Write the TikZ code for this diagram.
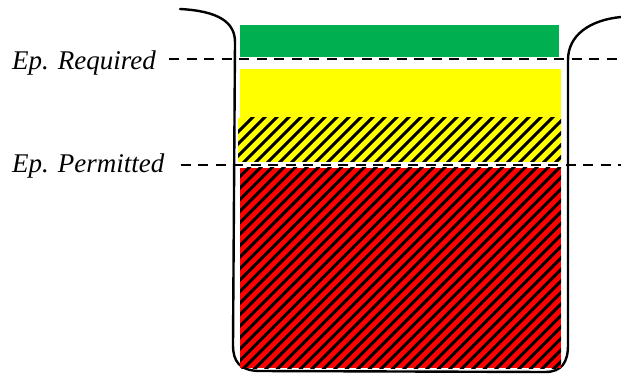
\documentclass[tikz,border=0pt]{standalone}
\usepackage{fontspec}
\setmainfont{Liberation Serif}
\definecolor{lvgreen}{RGB}{0,176,80}
\definecolor{lvyellow}{RGB}{255,255,0}
\definecolor{lvred}{RGB}{255,0,0}
\tikzset{
  lbl/.style={font=\itshape\fontsize{27}{30}\selectfont, inner sep=0pt, anchor=base west},
  level/.style={line width=2.6pt, dash pattern=on 10pt off 7.5pt},
  tank/.style={line width=2.4pt, line cap=round},
  hatchline/.style={line width=2.9pt, black},
}
\begin{document}
\begin{tikzpicture}[x=1pt,y=-1pt]
\useasboundingbox (0,0) rectangle (621,374);
% tank outline
\draw[tank] (180,9) .. controls (218,11) and (235,22) .. (235,42) -- (233,345)
  .. controls (233,362) and (240,370) .. (258,371) -- (545,372)
  .. controls (562,372) and (568,362) .. (568,345) -- (568,60)
  .. controls (568,35) and (590,20) .. (621,17);
% green
\fill[lvgreen] (240,25) rectangle (559,57);
% yellow solid
\fill[lvyellow] (240,69) rectangle (561,119);
% yellow hatched
\fill[lvyellow] (238,118) rectangle (561,162);
\begin{scope}
  \clip (238,118) rectangle (561,162);
  \foreach \i in {0,...,35} {
    \draw[hatchline] ({200+12*\i},170) -- ++(60,-60);
  }
\end{scope}
% red hatched
\fill[lvred] (240,168) rectangle (561,368);
\begin{scope}
  \clip (240,168) rectangle (561,368);
  \foreach \i in {0,...,50} {
    \draw[hatchline] ({30+11.5*\i},375) -- ++(215,-215);
  }
\end{scope}
% labels
\node[lbl] (req) at (12,70) {Ep. Required};
\node[lbl] (perm) at (12,173) {Ep. Permitted};
\coordinate (reqend) at (621,59);
\coordinate (permend) at (621,165);
\draw[level] (req.east |- 0,59) ++(13,0) -- (reqend);
\draw[level] (perm.east |- 0,165) ++(16,0) -- (permend);
\end{tikzpicture}
\end{document}
